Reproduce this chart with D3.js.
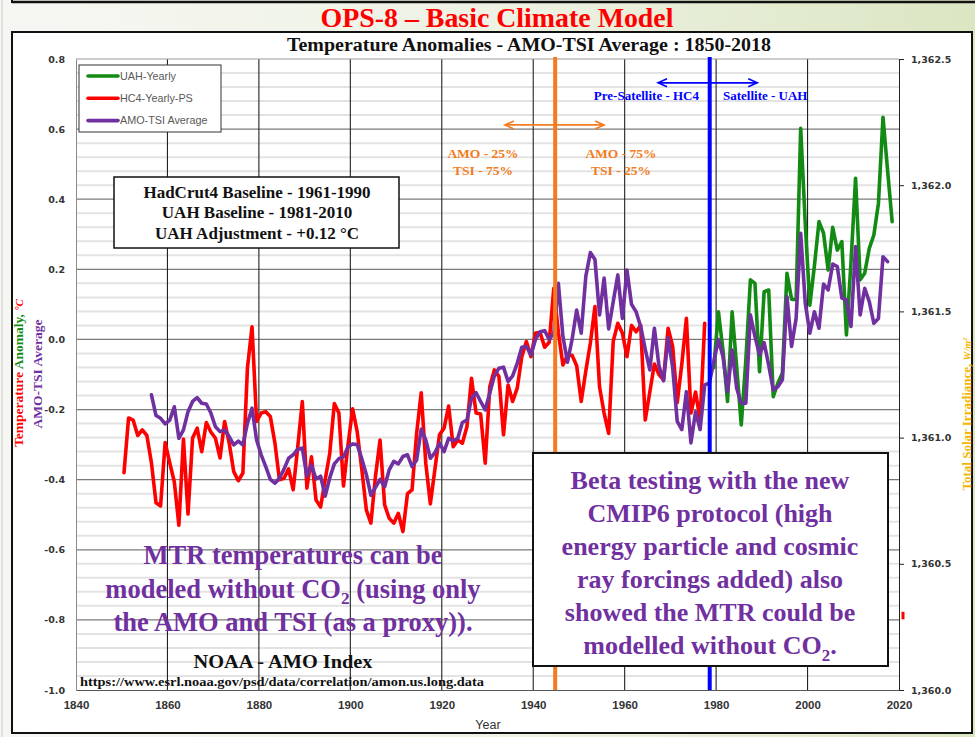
<!DOCTYPE html>
<html><head><meta charset="utf-8">
<script src="https://cdn.jsdelivr.net/npm/d3@7"></script>
<style>
html,body{margin:0;padding:0;background:#fff;}
svg{display:block;}
</style></head><body>
<svg id="c" width="975" height="737"></svg>
<script>
// ---------- data ----------
const xTickYears = [1840,1860,1880,1900,1920,1940,1960,1980,2000,2020];
const leftTicks = [-1.0,-0.8,-0.6,-0.4,-0.2,0.0,0.2,0.4,0.6,0.8];
const rightTicks = [1360.0,1360.5,1361.0,1361.5,1362.0,1362.5];
const seriesNames = ["UAH-Yearly","HC4-Yearly-PS","AMO-TSI Average"];
const seriesColors = ["#138a13","#ff0000","#7030a0"];

const uahStart = 1979;
const uahValues = [
-0.08,0.079,-0.03,-0.177,0.079,-0.078,-0.244,-0.06,0.17,0.16,
-0.092,0.136,0.141,-0.163,-0.125,-0.096,0.189,0.115,0.113,0.602,
0.33,0.098,0.21,0.336,0.303,0.198,0.32,0.255,0.279,0.013,
0.22,0.46,0.17,0.189,0.26,0.298,0.388,0.634,0.483,0.336];

const hc4Start = 1850;
const hc4Values = [
-0.38,-0.224,-0.23,-0.274,-0.258,-0.274,-0.352,-0.466,-0.475,-0.294,
-0.352,-0.406,-0.53,-0.284,-0.498,-0.281,-0.253,-0.32,-0.237,-0.264,
-0.282,-0.338,-0.234,-0.295,-0.377,-0.403,-0.381,-0.081,0.036,-0.234,
-0.21,-0.206,-0.22,-0.295,-0.40,-0.396,-0.369,-0.429,-0.306,-0.177,
-0.424,-0.335,-0.458,-0.478,-0.40,-0.325,-0.183,-0.21,-0.418,-0.30,
-0.198,-0.263,-0.37,-0.486,-0.524,-0.39,-0.287,-0.472,-0.51,-0.524,
-0.496,-0.548,-0.44,-0.429,-0.268,-0.152,-0.353,-0.469,-0.37,-0.272,
-0.253,-0.19,-0.306,-0.287,-0.296,-0.249,-0.111,-0.21,-0.213,-0.353,
-0.135,-0.087,-0.106,-0.272,-0.13,-0.177,-0.139,-0.049,-0.006,-0.049,
0.018,0.02,-0.022,-0.008,0.146,0.02,-0.073,-0.045,-0.045,-0.075,
-0.177,-0.09,-0.01,0.094,-0.135,-0.21,-0.268,-0.005,0.046,0.018,
-0.049,0.04,0.022,0.04,-0.23,-0.15,-0.07,-0.10,-0.115,0.032,
-0.02,-0.18,-0.07,0.06,-0.21,-0.15,-0.23,0.046];

const amoStart = 1856;
const amoValues = [
-0.158,-0.217,-0.225,-0.241,-0.23,-0.192,-0.282,-0.258,-0.206,-0.177,
-0.166,-0.182,-0.184,-0.21,-0.249,-0.263,-0.258,-0.277,-0.301,-0.29,
-0.301,-0.239,-0.196,-0.287,-0.329,-0.363,-0.399,-0.41,-0.396,-0.37,
-0.339,-0.329,-0.313,-0.31,-0.39,-0.358,-0.398,-0.39,-0.447,-0.395,
-0.355,-0.34,-0.335,-0.306,-0.298,-0.30,-0.34,-0.385,-0.445,-0.422,
-0.399,-0.42,-0.372,-0.348,-0.355,-0.334,-0.329,-0.363,-0.344,-0.256,
-0.287,-0.339,-0.323,-0.296,-0.32,-0.282,-0.289,-0.282,-0.237,-0.23,
-0.168,-0.152,-0.177,-0.201,-0.153,-0.104,-0.082,-0.079,-0.12,-0.104,
-0.068,-0.022,-0.02,-0.044,0.0,0.022,0.025,0.0,0.018,0.16,
0.008,-0.065,0.0,0.084,0.018,0.18,0.248,0.228,0.07,0.175,
0.03,0.108,0.184,0.06,0.198,0.10,0.079,0.037,-0.028,-0.087,
0.032,-0.075,-0.118,0.005,-0.08,-0.234,-0.257,-0.149,-0.295,-0.206,
-0.257,-0.13,-0.125,-0.063,0.0,-0.049,-0.149,-0.03,-0.139,-0.182,
-0.182,0.07,0.008,-0.044,-0.009,-0.073,-0.144,-0.135,-0.115,0.122,
-0.02,0.06,0.303,0.103,0.018,0.079,0.032,0.158,0.141,0.215,
0.208,0.118,0.113,0.037,0.265,0.07,0.146,0.108,0.046,0.06,
0.236,0.222];

// vertical divider lines (year) and arrow spans
const dividerYears = [1944.8, 1978.6];
const dividerColors = ["#f47b20","#0000ff"];
const orangeArrow = {from:1933.8, to:1955.5, v:0.612};
const blueArrow = {from:1967.3, to:1989.0, v:0.732};

// ---------- setup ----------
const svg = d3.select("#c");
const W = 975, H = 737;
const M = {left:76, right:899, top:59, bottom:690};
const serif = "'Liberation Serif','Times New Roman',serif";
const sans = "'Liberation Sans',Arial,sans-serif";
const narrow = "'Liberation Sans Narrow','Arial Narrow','Liberation Sans',sans-serif";
const bold = "'DejaVu Sans',Verdana,sans-serif";

const x = d3.scaleLinear().domain([1840,2020]).range([M.left,M.right]);
const y = d3.scaleLinear().domain([-1.0,0.8]).range([M.bottom,M.top]);
const y2 = d3.scaleLinear().domain([1360,1362.5]).range([M.bottom,M.top]);
const mid = 0.5; // annual values plotted mid-year

const defs = svg.append("defs");
const g1 = defs.append("linearGradient").attr("id","bg").attr("x1","0").attr("x2","1").attr("y1","0").attr("y2","0");
g1.append("stop").attr("offset","0").attr("stop-color","#f6f7f3");
g1.append("stop").attr("offset","0.5").attr("stop-color","#eef2e4");
g1.append("stop").attr("offset","1").attr("stop-color","#dbe6c3");
svg.append("rect").attr("width",W).attr("height",H).attr("fill","url(#bg)");

// top remnant line
svg.append("line").attr("x1",12).attr("x2",W).attr("y1",2).attr("y2",2).attr("stroke","#111").attr("stroke-width",2.5);
svg.append("line").attr("x1",12).attr("x2",12).attr("y1",0).attr("y2",3).attr("stroke","#111").attr("stroke-width",2);
svg.append("line").attr("x1",2).attr("x2",2).attr("y1",0).attr("y2",H).attr("stroke","#c8c8c8").attr("stroke-width",1);

// main title
svg.append("text").attr("x",497).attr("y",27).attr("text-anchor","middle")
  .attr("font-family",serif).attr("font-weight","bold").attr("font-size",27).attr("fill","#ff0000")
  .attr("textLength",353).attr("lengthAdjust","spacingAndGlyphs")
  .text("OPS-8 – Basic Climate Model");

// chart box
svg.append("rect").attr("x",12).attr("y",32).attr("width",960).attr("height",701)
  .attr("fill","#fff").attr("stroke","#111").attr("stroke-width",2);

svg.append("text").attr("x",529).attr("y",51).attr("text-anchor","middle")
  .attr("font-family",serif).attr("font-weight","bold").attr("font-size",18).attr("fill","#111")
  .attr("textLength",484).attr("lengthAdjust","spacingAndGlyphs")
  .text("Temperature Anomalies - AMO-TSI Average : 1850-2018");

// ---------- grid ----------
const grid = svg.append("g");
const minor = d3.range(0, 46).map(i => -1.0 + i*0.04).filter(v => Math.abs(Math.round(v*5)-v*5) > 0.01);
grid.selectAll("line.minor").data(minor).join("line")
  .attr("x1",M.left).attr("x2",M.right).attr("y1",d=>y(d)).attr("y2",d=>y(d))
  .attr("stroke","#e3e3e3").attr("stroke-width",2);
grid.selectAll("line.major").data(leftTicks.filter(v=>v>-1 && v<0.8)).join("line")
  .attr("x1",M.left).attr("x2",M.right).attr("y1",d=>y(d)).attr("y2",d=>y(d))
  .attr("stroke","#7a7a7a").attr("stroke-width",1.3);
grid.selectAll("line.vert").data(xTickYears.filter(d=>d>1840 && d<2020)).join("line")
  .attr("x1",d=>x(d)).attr("x2",d=>x(d)).attr("y1",M.top).attr("y2",M.bottom)
  .attr("stroke","#222").attr("stroke-width",1.1);
grid.append("line").attr("x1",M.left).attr("x2",M.right).attr("y1",y(0.8)).attr("y2",y(0.8))
  .attr("stroke","#9a9a9a").attr("stroke-width",1);

// ---------- axes ----------
const axL = svg.append("g").attr("transform",`translate(${M.left},0)`)
  .call(d3.axisLeft(y).tickValues(leftTicks).tickFormat(d=>d.toFixed(1)).tickSize(0).tickPadding(11));
axL.select(".domain").attr("stroke","#8a8a8a");
axL.selectAll("text").attr("font-family",bold).attr("font-weight","bold").attr("font-size",9.5).attr("fill","#333");

const axR = svg.append("g").attr("transform",`translate(${M.right},0)`)
  .call(d3.axisRight(y2).tickValues(rightTicks).tickFormat(d3.format(",.1f")).tickSize(5).tickPadding(7));
axR.select(".domain").attr("stroke","#222");
axR.selectAll(".tick line").attr("stroke","#222");
axR.selectAll("text").attr("font-family",bold).attr("font-weight","bold").attr("font-size",9.5).attr("fill","#333");

const axB = svg.append("g").attr("transform",`translate(0,${M.bottom})`)
  .call(d3.axisBottom(x).tickValues(xTickYears).tickFormat(d3.format("d")).tickSize(0).tickPadding(11));
axB.select(".domain").attr("stroke","#555");
axB.selectAll("text").attr("font-family",narrow).attr("font-weight","bold").attr("font-size",11.5).attr("fill","#333");

svg.append("text").attr("x",488).attr("y",729).attr("text-anchor","middle")
  .attr("font-family",narrow).attr("font-size",12.5).attr("fill","#333").text("Year");

// left axis titles
const lt = svg.append("text").attr("transform","translate(23,373) rotate(-90)").attr("text-anchor","middle")
  .attr("font-family",serif).attr("font-weight","bold").attr("font-size",13.5);
lt.append("tspan").attr("fill","#ff0000").text("Temperature ");
lt.append("tspan").attr("fill","#138a13").text("Anomaly, ");
lt.append("tspan").attr("fill","#ff0000").attr("font-style","italic").attr("font-size",11).text("°C");
svg.append("text").attr("transform","translate(42,374) rotate(-90)").attr("text-anchor","middle")
  .attr("font-family",serif).attr("font-weight","bold").attr("font-size",13.5).attr("fill","#7030a0")
  .text("AMO-TSI Average");
// right axis title
const rt = svg.append("text").attr("transform","translate(971,414) rotate(-90)").attr("text-anchor","middle")
  .attr("font-family",serif).attr("font-weight","bold").attr("font-size",13).attr("fill","#f2b705");
rt.append("tspan").text("Total Solar Irradiance, ");
rt.append("tspan").attr("font-style","italic").attr("font-size",10).text("W/m");
rt.append("tspan").attr("font-style","italic").attr("font-size",7).attr("baseline-shift","super").text("2");

// ---------- series ----------
const mk = (start, vals) => vals.map((v,i)=>({year:start+i, v}));
const series = [mk(uahStart,uahValues), mk(hc4Start,hc4Values), mk(amoStart,amoValues)];
const line = d3.line().x(d=>x(d.year+mid)).y(d=>y(d.v));
svg.append("g").selectAll("path").data(series).join("path")
  .attr("d",line).attr("fill","none").attr("stroke",(d,i)=>seriesColors[i])
  .attr("stroke-width",3.6).attr("stroke-linejoin","round").attr("stroke-linecap","round");

// dividers
svg.append("g").selectAll("line").data(dividerYears).join("line")
  .attr("x1",d=>x(d)).attr("x2",d=>x(d)).attr("y1",M.top-2).attr("y2",M.bottom)
  .attr("stroke",(d,i)=>dividerColors[i]).attr("stroke-width",4);

// arrows
function dblArrow(a, color){
  const g = svg.append("g").attr("stroke",color).attr("stroke-width",1.6).attr("fill","none");
  const x1 = x(a.from), x2 = x(a.to), yy = y(a.v);
  g.append("line").attr("x1",x1).attr("x2",x2).attr("y1",yy).attr("y2",yy);
  g.append("path").attr("d",`M${x1+9},${yy-4}L${x1},${yy}L${x1+9},${yy+4}`);
  g.append("path").attr("d",`M${x2-9},${yy-4}L${x2},${yy}L${x2-9},${yy+4}`);
}
dblArrow(orangeArrow,"#f47b20");
dblArrow(blueArrow,"#0000ff");

function txt(xp, yp, s, size, color, anchor="middle"){
  return svg.append("text").attr("x",xp).attr("y",yp).attr("text-anchor",anchor)
    .attr("font-family",serif).attr("font-weight","bold").attr("font-size",size).attr("fill",color).text(s);
}
txt(483,158,"AMO - 25%",13.5,"#f47b20");
txt(483,175,"TSI - 75%",13.5,"#f47b20");
txt(621,158,"AMO - 75%",13.5,"#f47b20");
txt(621,175,"TSI - 25%",13.5,"#f47b20");
txt(699,100,"Pre-Satellite - HC4",13,"#0000ff","end");
txt(723,100,"Satellite - UAH",13,"#0000ff","start");

// legend
const lg = svg.append("g");
lg.append("rect").attr("x",79).attr("y",65).attr("width",142).attr("height",67)
  .attr("fill","#fff").attr("stroke","#333").attr("stroke-width",1);
seriesNames.forEach((n,i)=>{
  const yy = 76 + i*22.3;
  lg.append("line").attr("x1",88).attr("x2",118).attr("y1",yy).attr("y2",yy)
    .attr("stroke",seriesColors[i]).attr("stroke-width",3.6).attr("stroke-linecap","round");
  lg.append("text").attr("x",120).attr("y",yy+3.8).attr("font-family",sans).attr("font-size",10.8)
    .attr("fill","#595959").text(n);
});

// baseline box
svg.append("rect").attr("x",114).attr("y",177).attr("width",285).attr("height",71)
  .attr("fill","#fff").attr("stroke","#111").attr("stroke-width",1.5);
txt(257,198,"HadCrut4 Baseline - 1961-1990",17,"#111");
txt(257,218,"UAH Baseline - 1981-2010",17,"#111");
txt(257,239,"UAH Adjustment - +0.12 °C",17,"#111");

// purple notes
function multi(cx, lines, y0, dy, size){
  lines.forEach((parts,i)=>{
    const t = svg.append("text").attr("x",cx).attr("y",y0+i*dy).attr("text-anchor","middle")
      .attr("font-family",serif).attr("font-weight","bold").attr("font-size",size).attr("fill","#7030a0");
    parts.forEach(p=>{
      if (p === "_2") t.append("tspan").attr("font-size",size*0.65).attr("dy",size*0.25).text("2");
      else if (p.startsWith("^")) t.append("tspan").attr("dy",-size*0.25).text(p.slice(1));
      else t.append("tspan").text(p);
    });
  });
}
multi(293, [["MTR temperatures can be"],["modeled without CO","_2","^ (using only"],["the AMO and TSI (as a proxy))."]], 564, 33.5, 26.5);

svg.append("rect").attr("x",533).attr("y",453).attr("width",355).attr("height",213)
  .attr("fill","#fff").attr("stroke","#111").attr("stroke-width",2);
multi(710, [["Beta testing with the new"],["CMIP6 protocol (high"],["energy particle and cosmic"],["ray forcings added) also"],["showed the MTR could be"],["modelled without CO","_2","^."]], 489, 33, 26);

// NOAA source
svg.append("text").attr("x",283).attr("y",668).attr("text-anchor","middle")
  .attr("font-family",serif).attr("font-weight","bold").attr("font-size",18).attr("fill","#111")
  .attr("textLength",179).attr("lengthAdjust","spacingAndGlyphs").text("NOAA - AMO Index");
svg.append("text").attr("x",80).attr("y",686)
  .attr("font-family",serif).attr("font-weight","bold").attr("font-size",13).attr("fill","#111")
  .attr("textLength",404).attr("lengthAdjust","spacingAndGlyphs")
  .text("https://www.esrl.noaa.gov/psd/data/correlation/amon.us.long.data");

// small red mark at right of axis
svg.append("line").attr("x1",903).attr("x2",903).attr("y1",y2(1360.31)).attr("y2",y2(1360.28))
  .attr("stroke","#ff0000").attr("stroke-width",3);
</script>
</body></html>
